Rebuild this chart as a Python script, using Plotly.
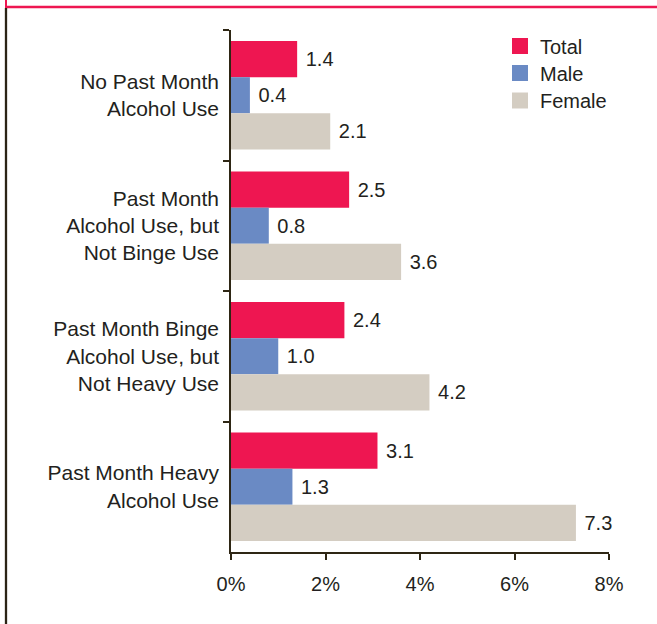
import plotly.graph_objects as go

categories = ["No Past Month<br>Alcohol Use",
              "Past Month<br>Alcohol Use, but<br>Not Binge Use",
              "Past Month Binge<br>Alcohol Use, but<br>Not Heavy Use",
              "Past Month Heavy<br>Alcohol Use"]
total = [1.4, 2.5, 2.4, 3.1]
male = [0.4, 0.8, 1.0, 1.3]
female = [2.1, 3.6, 4.2, 7.3]
series_names = ["Total", "Male", "Female"]
colors = ["#ee1651", "#6a8ac4", "#d4cdc2"]
x_ticks = [0, 2, 4, 6, 8]
x_tick_labels = ["0%", "2%", "4%", "6%", "8%"]

W, H = 657, 624
L, R, T, B = 231, 48, 30, 72
pw, ph = W - L - R, H - T - B

txt = "#231f20"
axc = "#2e2614"
fnt = "Liberation Sans, Arial, Helvetica, sans-serif"


def px_x(p):
    return (p - L) / pw


def px_y(p):
    return (H - B - p) / ph


fig = go.Figure()
for name, vals, c in zip(series_names, [total, male, female], colors):
    fig.add_trace(go.Bar(
        y=categories, x=vals, name=name, orientation="h",
        marker=dict(color=c, line=dict(width=0)),
        text=["\u00a0" + f"{v:.1f}" for v in vals], textposition="outside",
        textfont=dict(size=20, color=txt, family=fnt),
        cliponaxis=False, showlegend=False,
    ))

legend_ids = ["legend", "legend2", "legend3"]
legend_centers = [45.5, 72.5, 100]
for name, c, lid in zip(series_names, colors, legend_ids):
    fig.add_trace(go.Scatter(
        x=[None], y=[None], mode="markers", name=name, legend=lid,
        marker=dict(symbol="square", size=16, color=c, line=dict(width=0)),
        showlegend=True, hoverinfo="skip",
    ))

shapes = [
    dict(type="line", xref="paper", yref="paper",
         x0=px_x(5), x1=px_x(660), y0=px_y(7), y1=px_y(7),
         line=dict(color="#ee1651", width=2.5)),
    dict(type="line", xref="paper", yref="paper",
         x0=px_x(6), x1=px_x(6), y0=px_y(-2), y1=px_y(8),
         line=dict(color="#ee1651", width=2)),
    dict(type="line", xref="paper", yref="paper",
         x0=px_x(6), x1=px_x(6), y0=px_y(8), y1=px_y(630),
         line=dict(color="#2b2416", width=2.3)),
]

legend_common = dict(xanchor="left", yanchor="top",
                     font=dict(size=20, color=txt, family=fnt),
                     bgcolor="rgba(0,0,0,0)", itemsizing="trace",
                     borderwidth=0)

layout_legends = {}
for lid, cy in zip(legend_ids, legend_centers):
    layout_legends[lid] = dict(x=px_x(500), y=px_y(cy - 19), **legend_common)

fig.update_layout(
    width=W, height=H,
    margin=dict(l=L, r=R, t=T, b=B),
    paper_bgcolor="white", plot_bgcolor="white",
    barmode="group", bargap=0.17, bargroupgap=0,
    font=dict(family=fnt, size=20, color=txt),
    showlegend=True,
    shapes=shapes,
    xaxis=dict(range=[0, 8], tickmode="array", tickvals=x_ticks,
               ticktext=x_tick_labels,
               showgrid=False, zeroline=False, showline=True,
               linecolor=axc, linewidth=1.5,
               ticks="outside", ticklen=6, tickcolor=axc, tickwidth=1.5,
               ticklabelstandoff=7,
               tickfont=dict(size=20, color=txt, family=fnt)),
    yaxis=dict(autorange="reversed", showgrid=False, zeroline=False,
               showline=True, linecolor=axc, linewidth=1.5,
               ticks="outside", ticklen=6, tickcolor=axc, tickwidth=1.5,
               tickson="boundaries", ticklabelstandoff=6,
               tickfont=dict(size=21, color=txt, family=fnt)),
    **layout_legends,
)

fig.write_html("out.html",
               config={"displayModeBar": False},
               post_script="document.body.style.margin='0px';document.body.style.padding='0px';")
